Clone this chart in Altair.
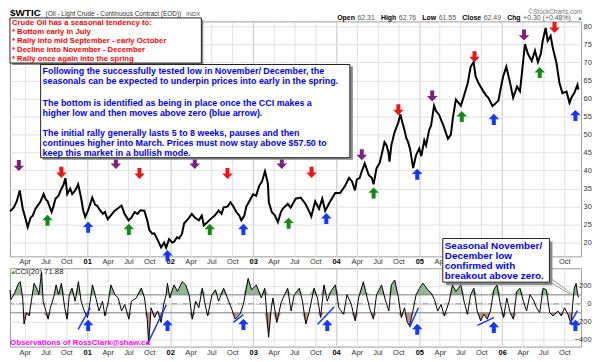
import altair as alt
import pandas as pd

# ---------------- data ----------------
price_dates = [
    "2000-01-27", "2000-02-13", "2000-02-26", "2000-03-10", "2000-03-23", "2000-04-05", "2000-04-14",
    "2000-04-27", "2000-05-06", "2000-05-19", "2000-05-28", "2000-06-10", "2000-06-23", "2000-07-02",
    "2000-07-10", "2000-07-28", "2000-08-05", "2000-08-14", "2000-08-27", "2000-09-09", "2000-09-18",
    "2000-09-27", "2000-10-05", "2000-10-18", "2000-10-27", "2000-11-09", "2000-11-22", "2000-12-05",
    "2000-12-14", "2000-12-23",
    "2001-01-05", "2001-01-23", "2001-02-05", "2001-02-13", "2001-02-26", "2001-03-11", "2001-03-20",
    "2001-04-01", "2001-04-14", "2001-05-02", "2001-05-15", "2001-06-01", "2001-06-14", "2001-07-02",
    "2001-07-15", "2001-07-28", "2001-08-10", "2001-08-23", "2001-09-09", "2001-09-22", "2001-10-01",
    "2001-10-14", "2001-10-23", "2001-11-05", "2001-11-22", "2001-12-05", "2001-12-14", "2001-12-27",
    "2002-01-10", "2002-01-19", "2002-01-31", "2002-02-09", "2002-02-22", "2002-03-03", "2002-03-20",
    "2002-04-06", "2002-04-19", "2002-05-07", "2002-05-20", "2002-05-29", "2002-06-11", "2002-06-28",
    "2002-07-16", "2002-08-02", "2002-08-15", "2002-08-24", "2002-09-10", "2002-09-23", "2002-10-06",
    "2002-10-19", "2002-11-01", "2002-11-10", "2002-11-23", "2002-12-02", "2002-12-15",
    "2003-01-01", "2003-01-14", "2003-01-27", "2003-02-09", "2003-02-22", "2003-03-03", "2003-03-07",
    "2003-03-11", "2003-03-24", "2003-04-07", "2003-04-20", "2003-05-03", "2003-05-11", "2003-06-02",
    "2003-06-15", "2003-07-07", "2003-07-29", "2003-08-19", "2003-09-06", "2003-09-14", "2003-10-01",
    "2003-10-18", "2003-11-01", "2003-11-14", "2003-12-02", "2003-12-28",
    "2004-01-19", "2004-02-09", "2004-02-27", "2004-03-11", "2004-03-24", "2004-04-01", "2004-04-14",
    "2004-04-23", "2004-05-06", "2004-05-24", "2004-06-06", "2004-06-14", "2004-06-27", "2004-07-10",
    "2004-07-19", "2004-08-01", "2004-08-10", "2004-08-18", "2004-08-23", "2004-08-31", "2004-09-14",
    "2004-10-01", "2004-10-10", "2004-10-18", "2004-10-27", "2004-11-05", "2004-11-13", "2004-11-22",
    "2004-12-05", "2004-12-18",
    "2005-01-01", "2005-01-10", "2005-01-23", "2005-01-31", "2005-02-13", "2005-02-22", "2005-03-07",
    "2005-03-16", "2005-03-29", "2005-04-20", "2005-05-07", "2005-05-20", "2005-05-29", "2005-06-11",
    "2005-07-03", "2005-07-16", "2005-08-02", "2005-08-15", "2005-08-28", "2005-09-06", "2005-09-19",
    "2005-10-06", "2005-10-19", "2005-11-01", "2005-11-19", "2005-12-02", "2005-12-15", "2005-12-24",
    "2006-01-05", "2006-01-19", "2006-02-05", "2006-02-18", "2006-03-07", "2006-03-20", "2006-04-02",
    "2006-04-11", "2006-04-24", "2006-05-11", "2006-05-25", "2006-06-07", "2006-06-20", "2006-06-28",
    "2006-07-11", "2006-07-20", "2006-08-02", "2006-08-11", "2006-08-28", "2006-09-10", "2006-09-23",
    "2006-10-11", "2006-10-24", "2006-11-01", "2006-11-14", "2006-11-28", "2006-12-02",
]
price_values = [
    28.7, 29.8, 31.5, 34.5, 29.5, 26.5, 24.3, 27.0, 27.5, 29.5, 30.3, 31.5, 33.5, 32.0,
    31.6, 28.5, 30.0, 32.2, 33.0, 34.9, 36.0, 37.9, 33.5, 35.0, 33.5, 34.5, 36.2, 32.4,
    29.0, 27.1,
    29.0, 32.5, 30.5, 30.3, 29.0, 28.0, 28.5, 26.5, 27.5, 28.9, 29.5, 30.3, 28.0, 26.2,
    27.0, 28.5, 28.0, 29.0, 28.9, 26.2, 23.5, 22.5, 22.6, 21.0, 18.7, 20.0, 18.6, 21.0,
    20.0, 20.3, 21.5, 21.2, 22.5, 25.3, 26.5, 28.0, 27.0, 26.2, 27.5, 24.8, 25.5, 26.6,
    27.5, 28.9, 28.0, 29.8, 30.0, 31.2, 30.0, 28.5, 27.5, 26.2, 27.5, 30.0, 31.5,
    33.4, 33.0, 35.7, 37.0, 39.8, 37.5, 36.2, 31.2, 28.5, 27.5, 25.7, 28.5, 29.4, 30.8,
    29.7, 32.2, 32.5, 30.8, 28.5, 27.3, 31.5, 29.4, 32.2, 28.8, 31.0, 33.8,
    33.8, 35.7, 38.0, 37.0, 34.5, 37.5, 38.0, 39.8, 42.0, 38.7, 38.0, 36.2, 40.7, 42.0,
    44.3, 47.9, 47.0, 45.2, 42.5, 47.0, 50.6, 53.4, 55.6, 53.5, 51.5, 49.0, 47.9, 45.8,
    40.7, 44.3,
    46.1, 44.0, 48.4, 47.0, 51.2, 52.5, 58.0, 56.5, 55.5, 52.0, 48.8, 50.0, 54.7, 59.7,
    58.0, 60.6, 64.2, 68.8, 70.1, 66.1, 64.2, 62.4, 61.1, 60.2, 57.9, 58.6, 59.4, 62.4,
    66.1, 68.8, 64.2, 60.2, 63.3, 62.0, 69.7, 75.1, 72.4, 70.4, 73.3, 70.1, 72.5, 76.0,
    79.6, 76.0, 77.4, 74.2, 69.7, 64.2, 61.5, 61.9, 58.8, 60.2, 61.5, 63.8, 62.5,
]

cci_dates = [
    "2000-01-27", "2000-01-31", "2000-02-13", "2000-03-05", "2000-03-12", "2000-03-23", "2000-03-29",
    "2000-04-09", "2000-04-20", "2000-05-02", "2000-05-12", "2000-05-27", "2000-06-02", "2000-06-14",
    "2000-06-21", "2000-07-13", "2000-07-23", "2000-08-07", "2000-08-17", "2000-08-28", "2000-09-09",
    "2000-09-24", "2000-10-04", "2000-10-14", "2000-10-26", "2000-11-09", "2000-11-23", "2000-12-05",
    "2000-12-19",
    "2001-01-02", "2001-01-14", "2001-01-24", "2001-02-08", "2001-02-22", "2001-03-09", "2001-03-20",
    "2001-04-04", "2001-04-15", "2001-05-03", "2001-05-17", "2001-06-01", "2001-06-15", "2001-06-27",
    "2001-07-03", "2001-07-14", "2001-08-05", "2001-08-27", "2001-09-10", "2001-09-22", "2001-09-28",
    "2001-10-09", "2001-10-24", "2001-11-07", "2001-11-22", "2001-12-03", "2001-12-14", "2001-12-20",
    "2001-12-30",
    "2002-01-18", "2002-02-02", "2002-02-23", "2002-03-10", "2002-03-25", "2002-04-08", "2002-04-23",
    "2002-05-07", "2002-05-22", "2002-06-05", "2002-06-15", "2002-07-04", "2002-07-19", "2002-08-02",
    "2002-08-24", "2002-09-10", "2002-09-29", "2002-10-14", "2002-11-04", "2002-11-19", "2002-12-10",
    "2002-12-25",
    "2003-01-15", "2003-02-06", "2003-02-21", "2003-03-10", "2003-03-22", "2003-03-29", "2003-04-15",
    "2003-05-04", "2003-05-19", "2003-06-02", "2003-06-17", "2003-07-01", "2003-07-23", "2003-08-05",
    "2003-08-21", "2003-09-04", "2003-09-26", "2003-10-11", "2003-10-25", "2003-11-09", "2003-11-23",
    "2003-12-08", "2003-12-29",
    "2004-01-13", "2004-02-03", "2004-02-18", "2004-03-08", "2004-03-25", "2004-04-09", "2004-04-30",
    "2004-05-10", "2004-05-29", "2004-06-13", "2004-06-27", "2004-07-19", "2004-08-02", "2004-08-20",
    "2004-08-31", "2004-09-15", "2004-09-30", "2004-10-14", "2004-10-28", "2004-11-09", "2004-11-19",
    "2004-12-04", "2004-12-18",
    "2005-01-02", "2005-01-17", "2005-02-08", "2005-02-22", "2005-03-09", "2005-03-23", "2005-04-07",
    "2005-04-21", "2005-05-13", "2005-05-27", "2005-06-11", "2005-07-03", "2005-07-17", "2005-08-01",
    "2005-08-15", "2005-08-29", "2005-09-13", "2005-09-28", "2005-10-12", "2005-10-27", "2005-11-10",
    "2005-11-25", "2005-12-09", "2005-12-24",
    "2006-01-07", "2006-01-21", "2006-02-05", "2006-02-19", "2006-03-06", "2006-03-20", "2006-04-04",
    "2006-04-18", "2006-05-03", "2006-05-17", "2006-06-01", "2006-06-15", "2006-06-30", "2006-07-14",
    "2006-07-29", "2006-08-12", "2006-09-03", "2006-09-18", "2006-10-02", "2006-10-17", "2006-10-31",
    "2006-11-07", "2006-11-14", "2006-11-22", "2006-11-29", "2006-12-03",
]
cci_values = [
    156, 47, 102, 229, 247, 65, -225, -98, -134, 65, 229, 156, 102, 356,
    29, -171, -44, 83, 211, 102, 229, -44, -171, 102, 174, 29, 247, 29,
    -80,
    -153, 29, 211, 65, -80, 29, -134, 29, 211, 102, 65, -80, -7, -116,
    -171, 29, 65, 174, 65, -171, -443, -44, -153, -80, -207, -7, 102, 229,
    65,
    211, 138, 247, 211, 102, -171, 29, -44, 174, -25, -134, 102, 156, 29,
    174, 65, -62, -171, -116, -7, 283, 156,
    211, 65, 174, -371, -44, 65, -207, 11, 102, 174, -80, 102, 174, 40,
    -225, -98, 174, 65, -153, 211, 29, 138, 211,
    -44, -116, 102, -7, -189, 65, 247, 138, -62, -171, 102, 211, 65, -80,
    211, 265, 83, -153, -44, -207, -243, -80, 102,
    174, 229, 156, 120, 47, -80, -7, -134, 29, 211, 138, 211, 29, -116,
    102, 174, -80, -189, -116, -171, -80, 156, 211, -7,
    -153, 65, -98, -171, 138, 174, 29, -80, 102, 47, -44, -98, 174, 156,
    -98, -134, -80, -134, -44, -116, -225, -7, 174, 229, 102, 72,
]

# seasonal arrows on the price panel
arrow_kind = (["purple"] * 7) + (["red"] * 7) + (["green"] * 7) + (["blue"] * 7)
arrow_dir = (["down"] * 14) + (["up"] * 14)
arrow_dates = [
    "2000-03-06", "2001-05-07", "2002-04-19", "2003-05-07", "2004-04-23", "2005-02-27", "2006-04-07",
    "2000-09-09", "2001-08-19", "2002-09-10", "2003-09-15", "2004-10-01", "2005-09-01", "2006-08-19",
    "2000-07-10", "2001-07-03", "2002-06-24", "2003-06-06", "2004-06-14", "2005-07-07", "2006-06-15",
    "2001-01-05", "2001-12-20", "2002-11-19", "2003-11-19", "2004-12-23", "2005-11-25", "2006-11-19",
]
arrow_prices = [
    41.4, 42.0, 42.0, 42.0, 44.4, 60.7, 77.6,
    39.5, 39.2, 39.2, 39.5, 56.9, 71.6, 79.7,
    26.2, 23.7, 23.7, 25.4, 33.8, 55.0, 67.2,
    24.3, 16.4, 23.7, 26.7, 39.0, 54.2, 55.3,
]

# blue arrows and trend lines on the CCI panel
cci_arrow_dates = ["2001-01-05", "2001-12-20", "2002-11-19", "2003-11-23", "2004-12-23", "2005-11-25", "2006-11-19"]
cci_arrow_values = [-240, -240, -229, -240, -283, -262, -240]
trend_start = ["2000-11-22", "2001-09-23", "2002-10-06", "2003-10-11", "2004-11-19", "2005-09-14", "2006-10-24"]
trend_start_cci = [-283, -447, -207, -229, -262, -240, -229]
trend_end = ["2001-01-14", "2001-12-15", "2002-11-19", "2003-12-24", "2004-12-28", "2005-11-25", "2006-11-28"]
trend_end_cci = [-44, -11, -120, -33, -44, -153, -76]

tick_years = list(range(2000, 2007))
tick_months = [1, 4, 7, 10]
price_ticks = [20, 25, 30, 35, 40, 45, 50, 55, 60, 65, 70, 75, 80]
cci_ticks = [200, 0, -200, -400]
cci_bands = [100, -100]

title_main = "$WTIC"
title_desc = "(Oil - Light Crude - Continuous Contract (EOD))"
title_exch = "INDX"
credit = "\u00a9StockCharts.com"
quote_labels = ["Open", "High", "Low", "Close", "Chg"]
quote_values = ["62.31", "62.76", "61.55", "62.49", "+0.30 (+0.48%)"]
red_lines = [
    "Crude Oil has a seasonal tendency to:",
    "* Bottom early in July",
    "* Rally into mid September - early October",
    "* Decline into November - December",
    "* Rally once again into the spring",
]
blue_paragraphs = [
    ["Following the successfully tested low in November/ December, the",
     "seasonals can be expected to underpin prices into early in the spring."],
    ["The bottom is identified as being in place once the CCI makes a",
     "higher low and then moves above zero (blue arrow)."],
    ["The initial rally generally lasts 5 to 8 weeks, pauses and then",
     "continues higher into March.  Prices must now stay above $57.50 to",
     "keep this market in a bullish mode."],
]
seasonal_lines = ["Seasonal November/", "December low", "confirmed with", "breakout above zero."]
cci_label = "CCI(20) 71.88"
credit_note = "Observations of RossClark@shaw.ca"

# ---------------- chart ----------------
W, H1, H2 = 576, 237, 79
FONT = "Liberation Sans"

x_scale = alt.Scale(type="utc", domain=[alt.DateTime(year=2000, month=1, date=27, utc=True),
                                        alt.DateTime(year=2006, month=12, date=14, utc=True)])
tick_vals = [alt.DateTime(year=y, month=m, date=1, utc=True)
             for y in tick_years for m in tick_months if not (y == 2000 and m == 1)]
is_year = "utcmonth(datum.value) == 0"
label_fmt = f"({is_year} ? utcFormat(datum.value, '%y') : utcFormat(datum.value, '%b'))"
# labels that sit under the "Seasonal" note box are hidden by it in the reference
hidden = "(datum.value > utc(2005, 5, 15) && datum.value < utc(2006, 7, 15))"


def x_axis(pad, hide_under_box):
    expr = f"{hidden} ? '' : {label_fmt}" if hide_under_box else label_fmt
    return alt.Axis(values=tick_vals, title=None, ticks=False, tickSize=0, domain=False,
                    labelExpr=expr,
                    labelFontWeight={"condition": {"test": is_year, "value": "bold"}, "value": "normal"},
                    labelColor={"condition": {"test": is_year, "value": "#000"}, "value": "#333"},
                    gridColor={"condition": {"test": is_year, "value": "#c8c8c8"}, "value": "#e2e2e2"},
                    labelFontSize=7.5, labelPadding=pad, labelOverlap=False, labelFlush=False,
                    labelFont=FONT)


def PX(field):
    return alt.X(field, type="temporal", scale=x_scale, axis=x_axis(1, True), title=None)


def CX(field):
    return alt.X(field, type="temporal", scale=x_scale, axis=x_axis(2, False), title=None)


p_scale = alt.Scale(domain=[16.2, 81.4], nice=False, zero=False)
p_axis = alt.Axis(orient="right", values=price_ticks, title=None, ticks=False, domain=False,
                  labelFontSize=7.5, labelPadding=2, labelColor="#333", gridColor="#e2e2e2", labelFont=FONT)
c_scale = alt.Scale(domain=[-476, 396], nice=False, zero=False)
c_axis = alt.Axis(orient="right", values=cci_ticks, title=None, ticks=False, domain=False,
                  labelFontSize=7.5, labelPadding=10, labelAlign="right", labelColor="#333",
                  gridColor="#e2e2e2", labelFont=FONT)


def PY(field):
    return alt.Y(field, type="quantitative", scale=p_scale, axis=p_axis, title=None)


def CY(field):
    return alt.Y(field, type="quantitative", scale=c_scale, axis=c_axis, title=None)


one = pd.DataFrame({"k": [0]})


def txt(s, x, y, size, color, weight="normal", align="left", lh=None):
    props = dict(align=align, baseline="alphabetic", fontSize=size, color=color,
                 fontWeight=weight, font=FONT)
    if lh:
        props.update(lineBreak="\n", lineHeight=lh)
    return alt.Chart(one).mark_text(**props).encode(x=alt.value(x), y=alt.value(y), text=alt.value(s))


def box(x1, x2, y1, y2, fill, stroke=None):
    kw = dict(fill=fill, opacity=1)
    if stroke:
        kw.update(stroke=stroke, strokeWidth=1)
    return alt.Chart(one).mark_rect(**kw).encode(
        x=alt.value(x1), x2=alt.value(x2), y=alt.value(y1), y2=alt.value(y2))


def seg(x1, y1, x2, y2, color):
    return alt.Chart(one).mark_rule(color=color, strokeWidth=1).encode(
        x=alt.value(x1), x2=alt.value(x2), y=alt.value(y1), y2=alt.value(y2))


down_path = "M-0.36,-1L0.36,-1L0.36,0.02L0.95,0.02L0,1L-0.95,0.02L-0.36,0.02Z"
up_path = "M-0.36,1L0.36,1L0.36,-0.02L0.95,-0.02L0,-1L-0.95,-0.02L-0.36,-0.02Z"
kind_scale = alt.Scale(domain=["purple", "red", "green", "blue"],
                       range=["#7d1f80", "#f01414", "#138a13", "#1436ff"])
dir_scale = alt.Scale(domain=["down", "up"], range=[down_path, up_path])

price_df = pd.DataFrame({"date": price_dates, "price": price_values})
arrow_df = pd.DataFrame({"date": arrow_dates, "price": arrow_prices, "kind": arrow_kind, "dir": arrow_dir})

price_line = alt.Chart(price_df).mark_line(color="black", strokeWidth=2).encode(
    x=PX("date"), y=PY("price"))
arrows = alt.Chart(arrow_df).mark_point(filled=True, opacity=1, size=125, strokeWidth=0).encode(
    x=PX("date"), y=PY("price"),
    color=alt.Color("kind:N", scale=kind_scale, legend=None),
    shape=alt.Shape("dir:N", scale=dir_scale, legend=None))

HDR = -1.0
price_layers = [
    price_line, arrows,
    box(2, 195, -1.5, 44, "#8a8a8a"),
    box(0, 193, -3.5, 42, "white", "#222"),
    txt("\n".join(red_lines), 2, 3.3, 7.8, "#ff0000", "bold", lh=9.1),
    box(32.9, 345.8, 45.5, 139.5, "#8a8a8a"),
    box(30.9, 342.8, 43.5, 137.5, "white", "#222"),
    txt(title_main, 0, -5, 10, "#000", "bold"),
    txt(title_desc, 35.9, -5, 6.5, "#333"),
    txt(title_exch, 177.5, -5, 6, "#555"),
    txt(credit, 577, -7.2, 6.5, "#777", align="right"),
    txt("\u25b2", 572, HDR, 5.5, "#3a8a3a"),
]
para_y = [53.0, 85.4, 115.4]
for lines, py in zip(blue_paragraphs, para_y):
    price_layers.append(txt("\n".join(lines), 32.9, py, 9, "#0000ff", "bold", lh=10.0))
q_label_x = [330.0, 374.1, 415.9, 456.1, 501.4]
q_value_x = [350.4, 392.2, 432.4, 477.7, 517.5]
for lab, lx in zip(quote_labels, q_label_x):
    price_layers.append(txt(lab, lx, HDR, 7, "#000", "bold"))
for val, vx in zip(quote_values, q_value_x):
    price_layers.append(txt(val, vx, HDR, 7, "#555"))

price_panel = alt.layer(*price_layers).properties(width=W, height=H1)

cci_df = pd.DataFrame({"date": cci_dates, "cci": cci_values})
band_df = pd.DataFrame({"cci": cci_bands})
zero_df = pd.DataFrame({"cci": [0]})
trend_df = pd.DataFrame({"date": trend_start, "date2": trend_end, "cci": trend_start_cci, "cci2": trend_end_cci})
cci_arrow_df = pd.DataFrame({"date": cci_arrow_dates, "cci": cci_arrow_values})

above = alt.Chart(cci_df).transform_calculate(hi="max(datum.cci, 100)", base="100").mark_area(
    color="#93b793").encode(x=CX("date"), y=CY("hi"), y2="base:Q")
below = alt.Chart(cci_df).transform_calculate(lo="min(datum.cci, -100)", base="-100").mark_area(
    color="#c38e8e").encode(x=CX("date"), y=CY("lo"), y2="base:Q")
bands = alt.Chart(band_df).mark_rule(color="#7a7a7a", strokeWidth=1).encode(y=CY("cci"))
zero = alt.Chart(zero_df).mark_rule(color="#8a8a8a", strokeWidth=1, strokeDash=[6, 2, 1, 2]).encode(y=CY("cci"))
cci_line = alt.Chart(cci_df).mark_line(color="black", strokeWidth=1).encode(x=CX("date"), y=CY("cci"))
trends = alt.Chart(trend_df).mark_rule(color="#1436ff", strokeWidth=1.5).encode(
    x=CX("date"), x2="date2:T", y=CY("cci"), y2="cci2:Q")
cci_arrows = alt.Chart(cci_arrow_df).mark_point(filled=True, opacity=1, size=125, strokeWidth=0,
                                               shape=up_path, color="#1436ff").encode(
    x=CX("date"), y=CY("cci"))

cci_layers = [
    above, below, bands, zero, cci_line, trends, cci_arrows,
    txt("\u25b2", 0, 6, 6.5, "#4f8a4f"),
    txt(cci_label, 5, 6, 7.8, "#222"),
    txt(credit_note, 0, 77, 8, "#ff00ff", "bold"),
    seg(542.1, 12, 566, 27, "#9a9a9a"),
    seg(545.1, 10, 567, 26, "#9a9a9a"),
    box(439.5, 547.1, -27, 17, "#8a8a8a"),
    box(436.5, 544.1, -30, 14, "white", "#222"),
    txt("\n".join(seasonal_lines), 438.5, -19.5, 10, "#0000ff", "bold", lh=10),
]
cci_panel = alt.layer(*cci_layers).properties(width=W, height=H2)

chart = alt.vconcat(price_panel, cci_panel, spacing=12, bounds="flush").properties(
    padding={"left": -3, "top": -2, "right": 0, "bottom": 0}, background="white"
).configure_view(stroke="#9a9a9a", strokeWidth=1)

chart.save("out.html", embed_options={"renderer": "svg", "actions": False})
